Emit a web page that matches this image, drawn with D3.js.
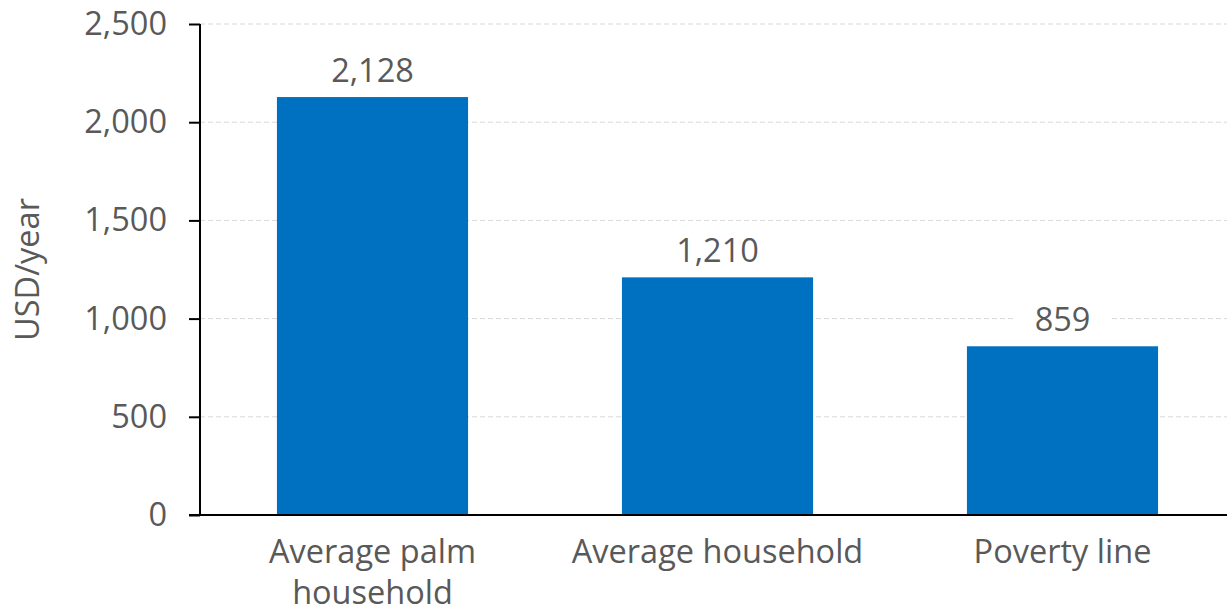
<!DOCTYPE html>
<html>
<head>
<meta charset="utf-8">
<script src="https://cdn.jsdelivr.net/npm/d3@7"></script>
<style>
  html, body { margin: 0; padding: 0; background: #fff; }
  svg { display: block; font-family: "Open Sans", "Noto Sans", sans-serif; }
</style>
</head>
<body>
<svg id="chart" width="1227" height="610"></svg>
<script>
// Annual income comparison, USD per year
const categories = [["Average palm", "household"], ["Average household"], ["Poverty line"]];
const values = [2128, 1210, 859];
const yTicks = [0, 500, 1000, 1500, 2000, 2500];
const yTitle = "USD/year";

const svg = d3.select("#chart");
const W = 1227, H = 610;
const plotLeft = 200, plotRight = 1235, plotTop = 24, plotBottom = 515;
const textColor = "#595959";
const barColor = "#0070C0";
const fontSize = 32.5;

const x = d3.scaleBand()
  .domain(d3.range(categories.length))
  .range([plotLeft, plotRight])
  .paddingInner(0.446)
  .paddingOuter(0.223);

const y = d3.scaleLinear().domain([0, 2500]).range([plotBottom, plotTop]);
const fmt = d3.format(",");

// Dashed horizontal gridlines
svg.append("g")
  .selectAll("line")
  .data(yTicks.filter(d => d > 0))
  .join("line")
  .attr("x1", plotLeft).attr("x2", W)
  .attr("y1", d => y(d)).attr("y2", d => y(d))
  .attr("stroke", "#d9d9d9")
  .attr("stroke-width", 1)
  .attr("stroke-dasharray", "5,3");

// Bars
svg.append("g")
  .selectAll("rect")
  .data(values)
  .join("rect")
  .attr("x", (d, i) => x(i))
  .attr("width", x.bandwidth())
  .attr("y", d => y(d))
  .attr("height", d => y(0) - y(d))
  .attr("fill", barColor);

// Value labels with a white backing so gridlines break behind them
const labels = svg.append("g")
  .selectAll("g")
  .data(values)
  .join("g")
  .attr("transform", (d, i) => `translate(${x(i) + x.bandwidth() / 2},${y(d) - 27})`);
labels.append("rect")
  .attr("x", -48).attr("y", -20).attr("width", 96).attr("height", 40)
  .attr("fill", "#fff");
labels.append("text")
  .attr("text-anchor", "middle")
  .attr("dy", "0.36em")
  .attr("font-size", fontSize)
  .attr("fill", textColor)
  .text(d => fmt(d));

// Y axis
const yAxis = svg.append("g")
  .attr("transform", `translate(${plotLeft},0)`)
  .call(d3.axisLeft(y).tickValues(yTicks).tickFormat(fmt).tickSize(11).tickPadding(22));
yAxis.select(".domain").attr("stroke", "#000").attr("stroke-width", 2)
  .attr("d", `M0,${plotTop}V${plotBottom}`);
yAxis.selectAll(".tick line").attr("stroke", "#000").attr("stroke-width", 2);
yAxis.selectAll(".tick text")
  .attr("font-size", fontSize)
  .attr("fill", textColor)
  .attr("font-family", "'Open Sans', 'Noto Sans', sans-serif");

// X axis baseline
svg.append("line")
  .attr("x1", plotLeft - 11).attr("x2", W)
  .attr("y1", plotBottom).attr("y2", plotBottom)
  .attr("stroke", "#000").attr("stroke-width", 2);

// Category labels
svg.append("g")
  .selectAll("text")
  .data(categories)
  .join("text")
  .attr("text-anchor", "middle")
  .attr("font-size", fontSize)
  .attr("fill", textColor)
  .attr("transform", (d, i) => `translate(${x(i) + x.bandwidth() / 2},${plotBottom + 48})`)
  .selectAll("tspan")
  .data(d => d)
  .join("tspan")
  .attr("x", 0)
  .attr("dy", (d, j) => j === 0 ? 0 : 41)
  .text(d => d);

// Y axis title
svg.append("text")
  .attr("transform", `translate(39,${(plotTop + plotBottom) / 2}) rotate(-90)`)
  .attr("text-anchor", "middle")
  .attr("font-size", fontSize)
  .attr("fill", textColor)
  .text(yTitle);
</script>
</body>
</html>
